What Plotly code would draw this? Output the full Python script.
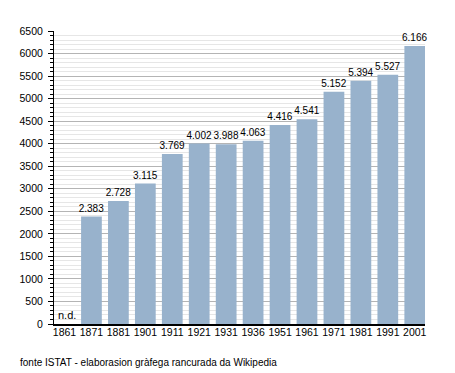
import plotly.graph_objects as go

years = ["1861", "1871", "1881", "1901", "1911", "1921", "1931", "1936",
         "1951", "1961", "1971", "1981", "1991", "2001"]
population = [None, 2383, 2728, 3115, 3769, 4002, 3988, 4063,
              4416, 4541, 5152, 5394, 5527, 6166]
labels = ["" if v is None else f"{v:,}".replace(",", ".") for v in population]
source_text = "fonte ISTAT - elaborasion gràfega rancurada da Wikipedia"
nd_text = "n.d."

FONT = "Liberation Sans, Arial, sans-serif"

fig = go.Figure(go.Bar(
    x=years, y=population, text=labels,
    textposition="outside", cliponaxis=False, constraintext="none",
    textfont=dict(family=FONT, size=10, color="#000000"),
    marker=dict(color="#98b2cc", line=dict(width=0)),
    hoverinfo="skip",
))

fig.update_layout(
    width=439, height=363,
    margin=dict(l=41, r=22, t=23, b=47),
    paper_bgcolor="white", plot_bgcolor="white",
    bargap=0.23, showlegend=False,
    font=dict(family=FONT, size=10.5, color="#000000"),
)

fig.update_xaxes(
    type="category", range=[-0.39, 13.38],
    showline=True, linecolor="#000000", linewidth=1.5,
    showgrid=False, ticks="", zeroline=False,
    ticklabelstandoff=-2,
    tickfont=dict(family=FONT, size=10.5, color="#000000"),
)

fig.update_yaxes(
    range=[0, 6500], dtick=500, tick0=0,
    showline=True, linecolor="#000000", linewidth=1,
    showgrid=True, gridcolor="#b4b4b4", gridwidth=1,
    ticks="outside", ticklen=5, tickcolor="#000000",
    ticklabelstandoff=3,
    zeroline=False,
    tickformat="d",
    tickfont=dict(family=FONT, size=10.5, color="#000000"),
    minor=dict(dtick=100, showgrid=True, gridcolor="#e6e6e6", gridwidth=1,
               ticks="outside", ticklen=3, tickcolor="#000000"),
)

# "n.d." marker for the first (missing) category, placed by category index
fig.add_annotation(
    x=years.index(years[0]), y=0, xref="x", yref="y", text=nd_text,
    showarrow=False, xanchor="left", yanchor="bottom", xshift=-9, yshift=1,
    font=dict(family=FONT, size=11, color="#000000"),
)

fig.add_annotation(
    x=-0.097, y=-0.133, xref="paper", yref="paper", text=source_text,
    showarrow=False, xanchor="left", yanchor="middle",
    font=dict(family=FONT, size=10, color="#000000"),
)

fig.write_html("out.html")
